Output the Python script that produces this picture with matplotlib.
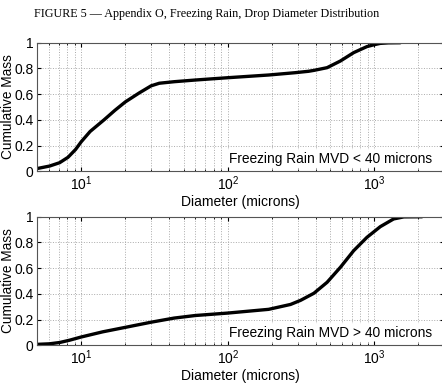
import matplotlib.pyplot as plt
import numpy as np

# diameters (microns) and cumulative mass
d_small = [5.07, 6.08, 7.12, 8.12, 9.15, 10, 11.5, 14.3, 17, 20, 24.9, 30, 34.1, 43.1, 60, 100, 190, 288, 356,
           387, 476, 587, 723, 891, 1000, 1099, 1250, 1503]
m_small = [0.023, 0.041, 0.067, 0.109, 0.17, 0.23, 0.31, 0.40, 0.475, 0.54, 0.61, 0.665, 0.685, 0.697, 0.71, 0.728,
           0.749, 0.767, 0.778, 0.785, 0.806, 0.858, 0.923, 0.97, 0.985, 0.995, 0.999, 1.0]

d_large = [5.07, 6.08, 7.12, 8.33, 10, 14, 20, 30, 43, 60, 100, 190, 268, 314, 387, 476, 587, 723, 891,
           1099, 1355, 1590, 2113]
m_large = [0.008, 0.012, 0.022, 0.04, 0.065, 0.105, 0.14, 0.18, 0.212, 0.232, 0.251, 0.28, 0.318, 0.35, 0.405,
           0.49, 0.607, 0.736, 0.84, 0.923, 0.983, 0.999, 1.0]

labels = ['Freezing Rain MVD < 40 microns', 'Freezing Rain MVD > 40 microns']
yticks = [0, 0.2, 0.4, 0.6, 0.8, 1]
ytick_labels = ['0', '0.2', '0.4', '0.6', '0.8', '1']

plt.rcParams['font.family'] = ['Liberation Sans', 'DejaVu Sans']

fig = plt.figure(figsize=(4.42, 3.85), dpi=100)
fig.text(0.077, 0.978, 'FIGURE 5 \u2014 Appendix O, Freezing Rain, Drop Diameter Distribution',
         family=['Liberation Serif', 'DejaVu Serif'], fontsize=8.7, va='top', ha='left')

boxes = [[0.084, 0.555, 0.921, 0.334], [0.084, 0.103, 0.921, 0.334]]
series = [(d_small, m_small), (d_large, m_large)]

for box, (d, m), lab in zip(boxes, series, labels):
    ax = fig.add_axes(box)
    ax.plot(d, m, color='black', linewidth=2.4, solid_capstyle='round', solid_joinstyle='round')
    ax.set_xscale('log')
    ax.set_xlim(5, 3000)
    ax.set_ylim(0, 1)
    ax.set_yticks(yticks)
    ax.set_yticklabels(ytick_labels)
    ax.grid(True, which='both', axis='x', linestyle=':', color='#aaaaaa', linewidth=0.7)
    ax.grid(True, which='major', axis='y', linestyle=':', color='#aaaaaa', linewidth=0.7)
    ax.tick_params(which='both', direction='in', top=True, right=True, labelsize=10, pad=2.5)
    ax.tick_params(which='major', length=3)
    ax.tick_params(which='minor', length=1.5)
    for s in ax.spines.values():
        s.set_color('#555555')
        s.set_linewidth(0.8)
    ax.set_xlabel('Diameter (microns)', fontsize=10, labelpad=1)
    ax.set_ylabel('Cumulative Mass', fontsize=9.8)
    ax.yaxis.set_label_coords(-0.054, 0.5)
    ax.text(0.970, 0.045, lab, transform=ax.transAxes, ha='right', va='bottom', fontsize=9.9,
            bbox=dict(facecolor='white', edgecolor='none', pad=1))

fig.savefig('out.png', dpi=100)
